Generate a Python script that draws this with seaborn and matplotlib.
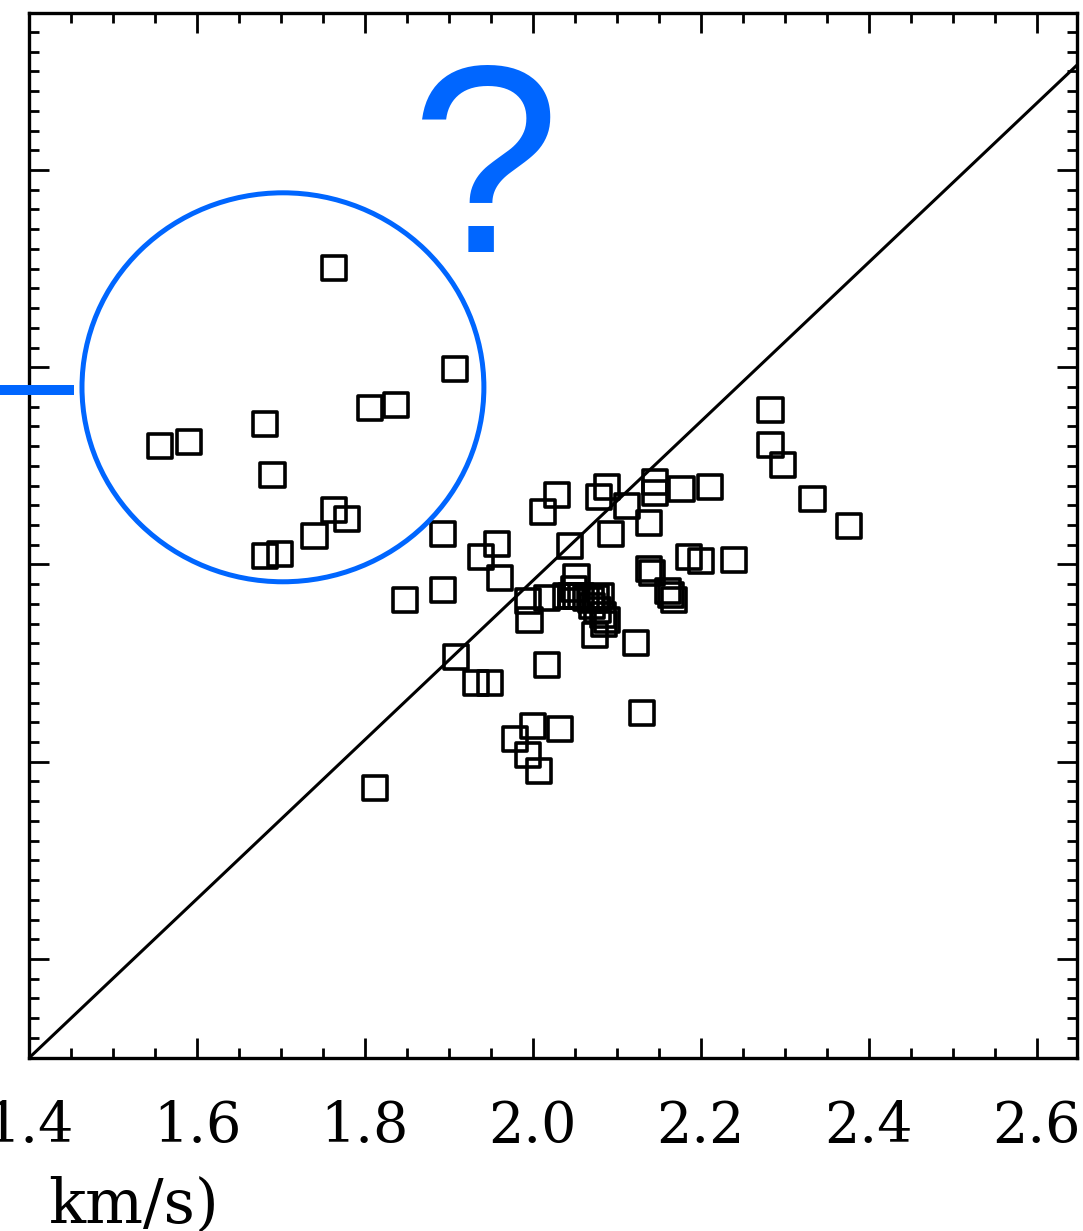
import matplotlib
matplotlib.use("Agg")
import matplotlib.pyplot as plt
import seaborn as sns
import pandas as pd
from matplotlib.patches import Ellipse
from matplotlib.ticker import MultipleLocator, FixedLocator, FixedFormatter

# ---------------- data ----------------
# points inside the highlighted circle
circ_x = [1.763, 1.907, 1.806, 1.837, 1.681, 1.556, 1.590, 1.690, 1.763, 1.779, 1.740, 1.681, 1.699]
circ_y = [2.376, 2.248, 2.198, 2.202, 2.178, 2.150, 2.155, 2.113, 2.069, 2.058, 2.036, 2.011, 2.013]

# remaining points
main_x = [1.893, 1.938, 1.957, 1.961, 1.848, 1.893, 2.012, 2.029, 2.044, 2.079,
          2.088, 2.093, 2.112, 2.145, 2.145, 2.138, 2.177, 2.211, 2.186, 2.200,
          2.239, 2.138, 2.142, 2.161, 2.164, 2.168, 2.123, 2.283, 2.283, 2.298,
          2.333, 2.376, 1.994, 1.996, 2.017, 2.052, 2.049, 2.039, 2.045, 2.051,
          2.057, 2.063, 2.069, 2.075, 2.081, 2.071, 2.077, 2.083, 2.088, 2.074,
          2.085, 1.908, 1.932, 1.949, 2.017, 2.130, 2.000, 2.032, 1.979, 1.994,
          2.007, 1.812]
main_y = [2.039, 2.010, 2.026, 1.983, 1.955, 1.968, 2.067, 2.088, 2.023, 2.086,
          2.098, 2.039, 2.074, 2.105, 2.091, 2.053, 2.096, 2.098, 2.010, 2.004,
          2.006, 1.994, 1.989, 1.966, 1.961, 1.955, 1.901, 2.196, 2.151, 2.126,
          2.083, 2.049, 1.954, 1.930, 1.958, 1.984, 1.969, 1.960, 1.960, 1.960,
          1.960, 1.958, 1.955, 1.958, 1.960, 1.947, 1.942, 1.936, 1.930, 1.911,
          1.925, 1.883, 1.850, 1.850, 1.873, 1.812, 1.795, 1.792, 1.779, 1.759,
          1.738, 1.717]

# reference (diagonal) line end points
diag_x = [1.400, 2.648]
diag_y = [1.3745, 2.633]

# axis ranges and tick labels
x_range = (1.4, 2.648)
y_range = (1.3745, 2.699)
x_ticks = [1.4, 1.6, 1.8, 2.0, 2.2, 2.4, 2.6]
x_tick_labels = ["1.4", "1.6", "1.8", "2.0", "2.2", "2.4", "2.6"]

# annotation: circle (centre, width, height), side bar, question mark
circle_center = (1.7024, 2.2246)
circle_size = (0.4786, 0.493)
bar_x = [1.3655, 1.4536]
bar_y = [2.2212, 2.2212]

BLUE = "#0066ff"

# ---------------- figure ----------------
sns.set_style("ticks")
plt.rcParams["font.family"] = ["DejaVu Serif"]
plt.rcParams["text.color"] = "black"

fig = plt.figure(figsize=(10.83, 12.31), dpi=100)
ax = fig.add_axes([29 / 1083, 173 / 1231, 1048 / 1083, 1045 / 1231])

df = pd.DataFrame({"x": circ_x + main_x, "y": circ_y + main_y})
sns.scatterplot(data=df, x="x", y="y", marker="s", s=300,
                facecolor="none", edgecolor="black", linewidth=2.6, ax=ax)
sns.lineplot(x=diag_x, y=diag_y, color="black", linewidth=2.2, ax=ax, sort=False)

ell = Ellipse(circle_center, circle_size[0], circle_size[1], fill=False,
              edgecolor=BLUE, linewidth=3.6, zorder=5)
ax.add_patch(ell)
ax.plot(bar_x, bar_y, color=BLUE, linewidth=7.2, solid_capstyle="butt",
        clip_on=False, zorder=6)

ax.set_xlim(*x_range)
ax.set_ylim(*y_range)
ax.xaxis.set_major_locator(FixedLocator(x_ticks))
ax.xaxis.set_major_formatter(FixedFormatter(x_tick_labels))
ax.xaxis.set_minor_locator(MultipleLocator(0.05))
ax.yaxis.set_major_locator(MultipleLocator(0.25))
ax.yaxis.set_minor_locator(MultipleLocator(0.025))

ax.tick_params(which="both", direction="in", top=True, right=True,
               left=True, bottom=True, width=2.0, colors="black")
ax.tick_params(which="major", length=14.4)
ax.tick_params(which="minor", length=7.2)
ax.tick_params(axis="x", which="major", labelsize=40, pad=30)
ax.tick_params(axis="y", labelleft=False)
for sp in ax.spines.values():
    sp.set_linewidth(2.4)
    sp.set_color("black")
ax.set_xlabel("")
ax.set_ylabel("")

fig.text(48 / 1083, 1 - 1222 / 1231, "km/s)", fontsize=44, ha="left",
         va="baseline", family="DejaVu Serif", color="black")
fig.text(486 / 1083, 1 - 252 / 1231, "?", fontsize=193, color=BLUE,
         ha="center", va="baseline", family="Liberation Sans")

fig.savefig("out.png", dpi=100)
